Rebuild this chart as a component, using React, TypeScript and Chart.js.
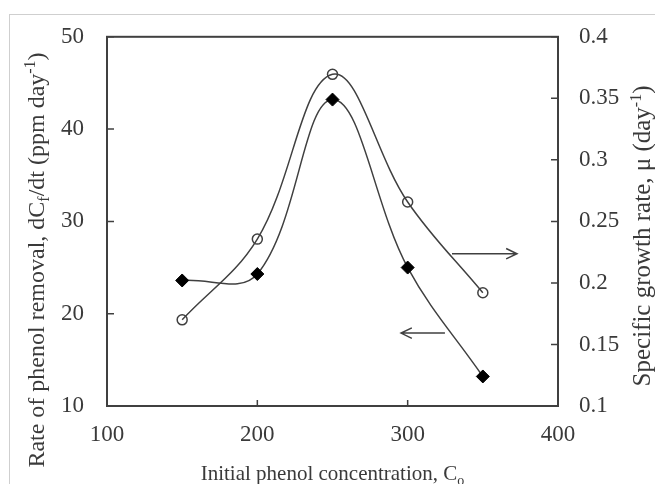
import React, { useEffect, useRef } from "react";
import { Chart, registerables } from "chart.js";

Chart.register(...registerables);

// ---- data ----
const concentrations = [150, 200, 250, 300, 350];
const removalRate = [23.6, 24.3, 43.2, 25.0, 13.2];
const growthRate = [0.170, 0.2356, 0.3695, 0.2658, 0.192];
const xTickValues = [100, 200, 300, 400];
const leftTickValues = [10, 20, 30, 40, 50];
const rightTickValues = [0.1, 0.15, 0.2, 0.25, 0.3, 0.35, 0.4];

// arrows in data coordinates (x, left-axis y); head at "to"
const arrowRightFrom = [329.5, 26.5];
const arrowRightTo = [372.7, 26.5];
const arrowLeftFrom = [324.8, 17.9];
const arrowLeftTo = [295.6, 17.9];

type Seg = { t: string; s?: "sub" | "sup" };
const leftTitle: Seg[] = [
  { t: "Rate of phenol removal, dC" },
  { t: "f", s: "sub" },
  { t: "/dt (ppm day" },
  { t: "-1", s: "sup" },
  { t: ")" },
];
const rightTitle: Seg[] = [
  { t: "Specific growth rate, μ (day" },
  { t: "-1", s: "sup" },
  { t: ")" },
];
const xTitle: Seg[] = [{ t: "Initial phenol concentration, C" }, { t: "o", s: "sub" }];

const FONT = '"Liberation Serif", "Times New Roman", serif';
const TEXT = "#3a3a3a";
const LINE = "#404040";

function drawRich(
  ctx: CanvasRenderingContext2D,
  segs: Seg[],
  cx: number,
  cy: number,
  rot: number,
  size: number
) {
  const base = `${size}px ${FONT}`;
  const small = `${Math.round(size * 0.65)}px ${FONT}`;
  let total = 0;
  const widths = segs.map((sg) => {
    ctx.font = sg.s ? small : base;
    const w = ctx.measureText(sg.t).width;
    total += w;
    return w;
  });
  ctx.save();
  ctx.translate(cx, cy);
  ctx.rotate(rot);
  ctx.fillStyle = TEXT;
  ctx.textBaseline = "alphabetic";
  ctx.textAlign = "left";
  let x = -total / 2;
  segs.forEach((sg, i) => {
    ctx.font = sg.s ? small : base;
    const dy = sg.s === "sup" ? -size * 0.38 : sg.s === "sub" ? size * 0.22 : 0;
    ctx.fillText(sg.t, x, dy);
    x += widths[i];
  });
  ctx.restore();
}

function drawArrow(ctx: CanvasRenderingContext2D, x1: number, y1: number, x2: number, y2: number) {
  const ang = Math.atan2(y2 - y1, x2 - x1);
  const head = 12;
  const spread = 0.45;
  ctx.beginPath();
  ctx.moveTo(x1, y1);
  ctx.lineTo(x2, y2);
  ctx.moveTo(x2 - head * Math.cos(ang - spread), y2 - head * Math.sin(ang - spread));
  ctx.lineTo(x2, y2);
  ctx.lineTo(x2 - head * Math.cos(ang + spread), y2 - head * Math.sin(ang + spread));
  ctx.stroke();
}

const decorPlugin = {
  id: "decor",
  beforeDraw(chart: any) {
    const ctx = chart.ctx as CanvasRenderingContext2D;
    ctx.save();
    ctx.strokeStyle = "#cfcfcf";
    ctx.lineWidth = 1;
    ctx.strokeRect(9.5, 14.5, chart.width + 20, chart.height + 20);
    ctx.restore();
  },
  beforeDatasetsDraw(chart: any) {
    const ctx = chart.ctx as CanvasRenderingContext2D;
    const { left, right, top, bottom } = chart.chartArea;
    const xs = chart.scales.x;
    const yl = chart.scales.y;
    const yr = chart.scales.y1;
    ctx.save();
    ctx.strokeStyle = LINE;
    ctx.lineWidth = 2;
    ctx.strokeRect(left, top, right - left, bottom - top);
    ctx.lineWidth = 1.5;
    ctx.beginPath();
    leftTickValues.forEach((v) => {
      const y = yl.getPixelForValue(v);
      ctx.moveTo(left, y);
      ctx.lineTo(left + 7, y);
    });
    rightTickValues.forEach((v) => {
      const y = yr.getPixelForValue(v);
      ctx.moveTo(right, y);
      ctx.lineTo(right - 7, y);
    });
    xTickValues.forEach((v) => {
      const x = xs.getPixelForValue(v);
      ctx.moveTo(x, bottom);
      ctx.lineTo(x, bottom - 6);
    });
    ctx.stroke();
    ctx.restore();
  },
  afterDraw(chart: any) {
    const ctx = chart.ctx as CanvasRenderingContext2D;
    const xs = chart.scales.x;
    const yl = chart.scales.y;
    ctx.save();
    ctx.strokeStyle = LINE;
    ctx.lineWidth = 1.5;
    drawArrow(
      ctx,
      xs.getPixelForValue(arrowRightFrom[0]),
      yl.getPixelForValue(arrowRightFrom[1]),
      xs.getPixelForValue(arrowRightTo[0]),
      yl.getPixelForValue(arrowRightTo[1])
    );
    drawArrow(
      ctx,
      xs.getPixelForValue(arrowLeftFrom[0]),
      yl.getPixelForValue(arrowLeftFrom[1]),
      xs.getPixelForValue(arrowLeftTo[0]),
      yl.getPixelForValue(arrowLeftTo[1])
    );
    ctx.restore();
    const { left, right } = chart.chartArea;
    drawRich(ctx, leftTitle, 44, 260, -Math.PI / 2, 24);
    drawRich(ctx, rightTitle, 650, 236, -Math.PI / 2, 25);
    drawRich(ctx, xTitle, (left + right) / 2, 480, 0, 21);
  },
};

export default function App() {
  const ref = useRef<HTMLCanvasElement | null>(null);
  useEffect(() => {
    document.body.style.margin = "0";
    const canvas = ref.current!;
    const tickFont = { family: FONT, size: 23 };
    const chart = new Chart(canvas, {
      type: "line",
      data: {
        datasets: [
          {
            label: "Rate of phenol removal",
            data: concentrations.map((x, i) => ({ x, y: removalRate[i] })),
            yAxisID: "y",
            borderColor: LINE,
            borderWidth: 1.5,
            tension: 0.38,
            pointStyle: "rectRot",
            pointRadius: 6.5,
            pointBackgroundColor: "#000",
            pointBorderColor: "#000",
            pointBorderWidth: 1,
            fill: false,
          },
          {
            label: "Specific growth rate",
            data: concentrations.map((x, i) => ({ x, y: growthRate[i] })),
            yAxisID: "y1",
            borderColor: LINE,
            borderWidth: 1.5,
            tension: 0.38,
            pointStyle: "circle",
            pointRadius: 5,
            pointBackgroundColor: "rgba(0,0,0,0)",
            pointBorderColor: LINE,
            pointBorderWidth: 1.5,
            fill: false,
          },
        ],
      },
      options: {
        animation: false,
        responsive: false,
        devicePixelRatio: 1,
        layout: { padding: { top: 35, left: 0, right: 0, bottom: 0 } },
        plugins: { legend: { display: false }, tooltip: { enabled: false } },
        scales: {
          x: {
            type: "linear",
            min: 100,
            max: 400,
            grid: { display: false, drawTicks: false },
            border: { display: false },
            afterBuildTicks: (axis: any) => {
              axis.ticks = xTickValues.map((value) => ({ value }));
            },
            afterFit: (scale: any) => {
              scale.height = 78;
            },
            ticks: { font: tickFont, color: TEXT, padding: 15, maxRotation: 0 },
          },
          y: {
            type: "linear",
            position: "left",
            min: 10,
            max: 50,
            grid: { display: false, drawTicks: false },
            border: { display: false },
            afterBuildTicks: (axis: any) => {
              axis.ticks = leftTickValues.map((value) => ({ value }));
            },
            afterFit: (scale: any) => {
              scale.width = 107;
            },
            ticks: { font: tickFont, color: TEXT, padding: 23 },
          },
          y1: {
            type: "linear",
            position: "right",
            min: 0.1,
            max: 0.4,
            grid: { display: false, drawTicks: false },
            border: { display: false },
            afterBuildTicks: (axis: any) => {
              axis.ticks = rightTickValues.map((value) => ({ value }));
            },
            afterFit: (scale: any) => {
              scale.width = 97;
            },
            ticks: {
              font: tickFont,
              color: TEXT,
              padding: 21,
              callback: (v: any) => String(Number(Number(v).toFixed(2))),
            },
          },
        },
      },
      plugins: [decorPlugin],
    });
    return () => chart.destroy();
  }, []);
  return <canvas ref={ref} width={655} height={484} style={{ display: "block" }} />;
}
